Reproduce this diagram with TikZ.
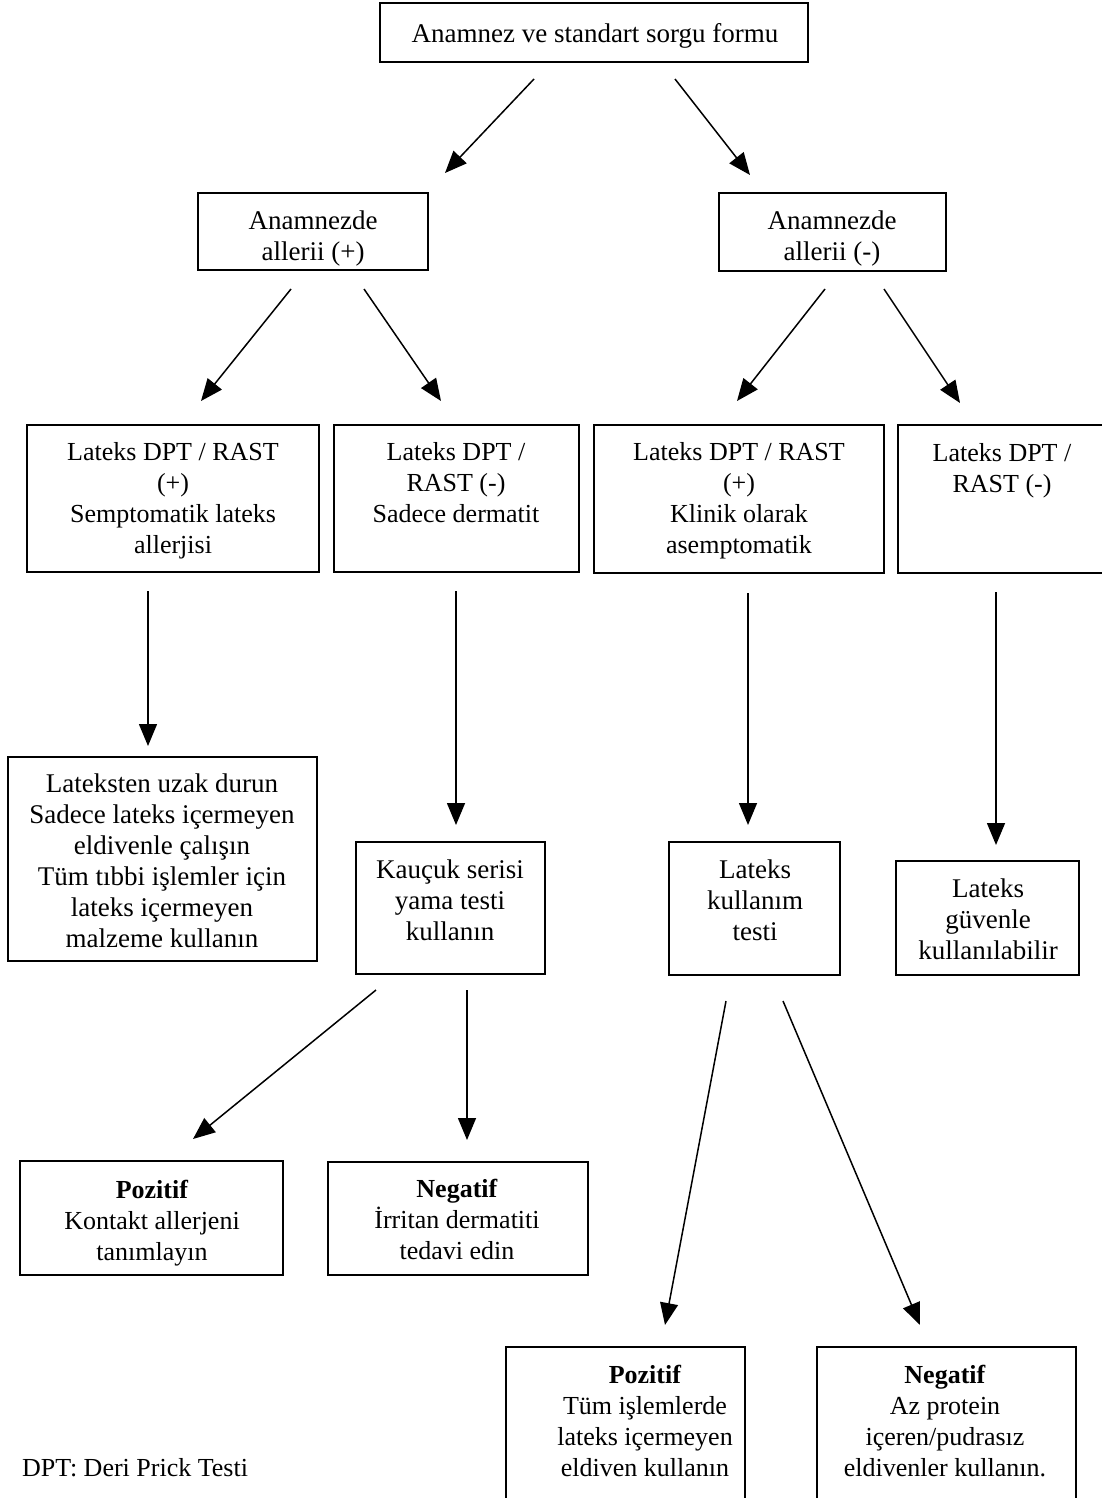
\documentclass[tikz,border=0pt]{standalone}
\usepackage{fontspec}
\setmainfont{Liberation Serif}
\usetikzlibrary{arrows.meta}
\begin{document}
\begin{tikzpicture}[x=1pt,y=-1pt,
  box/.style={draw, line width=1.8pt, inner sep=0pt},
  txt/.style={align=center, inner sep=0pt, font=\fontsize{26}{31}\selectfont},
  htxt/.style={align=center, inner sep=0pt, font=\fontsize{27}{31}\selectfont},
  arr/.style={line width=1.5pt, -{Triangle[length=22pt,width=18pt]}}]
\useasboundingbox (0,0) rectangle (1102,1498);
\fill[white] (0,0) rectangle (1102,1498);

% boxes
\node[box, minimum width=428pt, minimum height=59pt] (top) at (594,32.5) {};
\node[htxt] (topt) at (595,36) {Anamnez ve standart sorgu formu};

\node[box, minimum width=230pt, minimum height=77pt] (ap) at (313,231.5) {};
\node[htxt] (apt) at (313,239) {Anamnezde\\allerii (+)};

\node[box, minimum width=227pt, minimum height=78pt] (an) at (832.5,232) {};
\node[htxt] (ant) at (832,239) {Anamnezde\\allerii (-)};

\node[box, minimum width=292pt, minimum height=147pt] (l1) at (173,498.5) {};
\node[txt] (l1t) at (173,501) {Lateks DPT / RAST\\(+)\\Semptomatik lateks\\allerjisi};

\node[box, minimum width=245pt, minimum height=147pt] (l2) at (456.5,498.5) {};
\node[txt] (l2t) at (456,483) {Lateks DPT /\\RAST (-)\\Sadece dermatit};

\node[box, minimum width=290pt, minimum height=148pt] (l3) at (739,499) {};
\node[txt] (l3t) at (739,501) {Lateks DPT / RAST\\(+)\\Klinik olarak\\asemptomatik};

\node[box, minimum width=212pt, minimum height=148pt] (l4) at (1004,499) {};
\node[txt] (l4t) at (1002,470.5) {Lateks DPT /\\RAST (-)};

\node[box, minimum width=309pt, minimum height=204pt] (uz) at (162.5,859) {};
\node[htxt] (uzt) at (162,861) {Lateksten uzak durun\\Sadece lateks içermeyen\\eldivenle çalışın\\Tüm tıbbi işlemler için\\lateks içermeyen\\malzeme kullanın};

\node[box, minimum width=189pt, minimum height=132pt] (ka) at (450.5,908) {};
\node[htxt] (kat) at (450,900) {Kauçuk serisi\\yama testi\\kullanın};

\node[box, minimum width=171pt, minimum height=133pt] (lk) at (754.5,908.5) {};
\node[htxt] (lkt) at (755,900) {Lateks\\kullanım\\testi};

\node[box, minimum width=183pt, minimum height=114pt] (gu) at (987.5,918) {};
\node[htxt] (gut) at (988,919) {Lateks\\güvenle\\kullanılabilir};

\node[box, minimum width=263pt, minimum height=114pt] (p1) at (151.5,1218) {};
\node[txt] (p1t) at (152,1223) {\textbf{Pozitif}\\Kontakt allerjeni\\tanımlayın};

\node[box, minimum width=260pt, minimum height=113pt] (n1) at (458,1218.5) {};
\node[txt] (n1t) at (457,1219) {\textbf{Negatif}\\İrritan dermatiti\\tedavi edin};

\node[box, minimum width=239pt, minimum height=158pt] (p2) at (625.5,1426) {};
\node[txt] (p2t) at (645,1421) {\textbf{Pozitif}\\Tüm işlemlerde\\lateks içermeyen\\eldiven kullanın};

\node[box, minimum width=259pt, minimum height=158pt] (n2) at (946.5,1426) {};
\node[txt] (n2t) at (945,1421) {\textbf{Negatif}\\Az protein\\içeren/pudrasız\\eldivenler kullanın.};

\node[txt, anchor=west] (dpt) at (22,1468) {DPT: Deri Prick Testi};

% arrow end points
\coordinate (a1s) at (534,79);  \coordinate (a1e) at (445,173);
\coordinate (a2s) at (675,79);  \coordinate (a2e) at (750,175);
\coordinate (a3s) at (291,289); \coordinate (a3e) at (201,401);
\coordinate (a4s) at (364,289); \coordinate (a4e) at (441,401);
\coordinate (a5s) at (825,289); \coordinate (a5e) at (737,401);
\coordinate (a6s) at (884,289); \coordinate (a6e) at (960,403);
\coordinate (a7s) at (148,591); \coordinate (a7e) at (148,746);
\coordinate (a8s) at (456,591); \coordinate (a8e) at (456,825);
\coordinate (a9s) at (748,593); \coordinate (a9e) at (748,825);
\coordinate (a10s) at (996,592); \coordinate (a10e) at (996,845);
\coordinate (a11s) at (376,990); \coordinate (a11e) at (193,1139);
\coordinate (a12s) at (467,990); \coordinate (a12e) at (467,1140);
\coordinate (a13s) at (726,1001); \coordinate (a13e) at (665,1325);
\coordinate (a14s) at (783,1001); \coordinate (a14e) at (920,1325);

\foreach \i in {1,...,14} { \draw[arr] (a\i s) -- (a\i e); }
\end{tikzpicture}
\end{document}
